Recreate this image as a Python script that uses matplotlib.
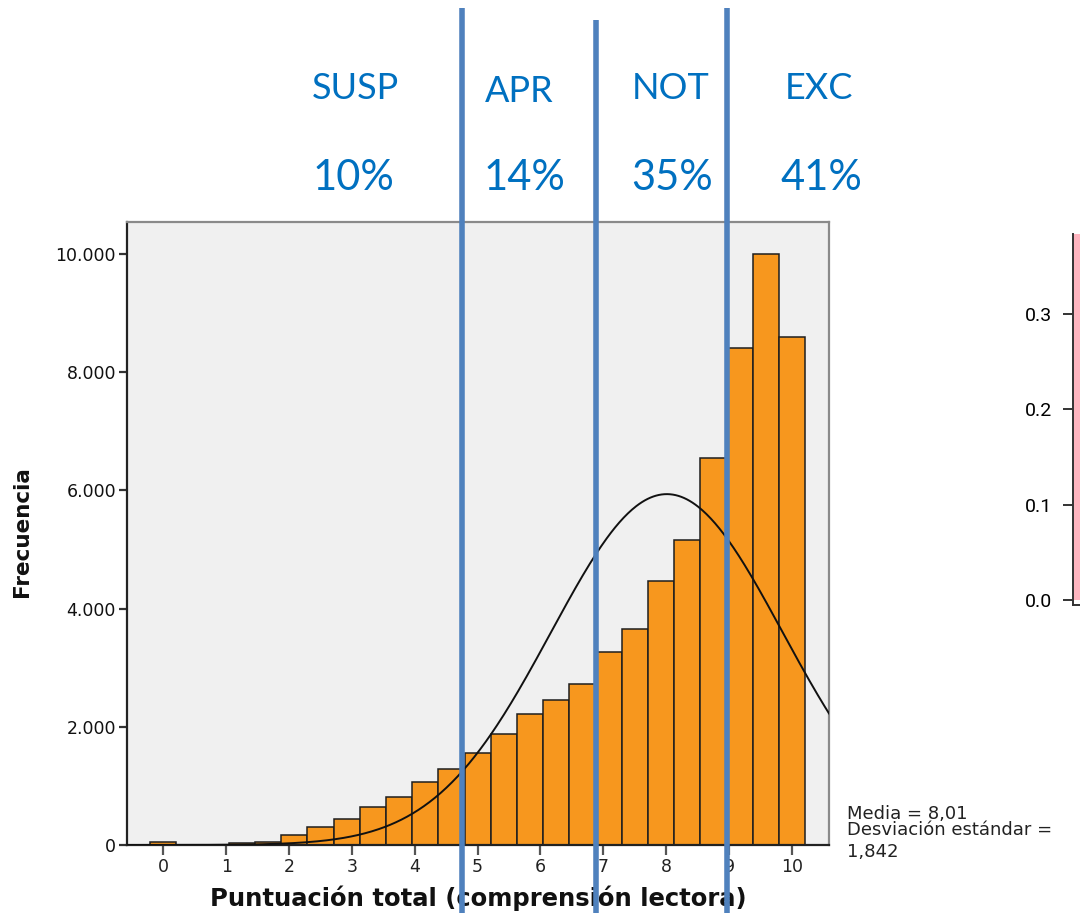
import numpy as np
import matplotlib
matplotlib.use("Agg")
import matplotlib.pyplot as plt
from matplotlib.lines import Line2D
from matplotlib.ticker import FuncFormatter
from matplotlib.transforms import blended_transform_factory

# ---------------- data ----------------
bin_step = 10 / 24
bin_index = list(range(25))
counts = [50, 0, 0, 30, 55, 175, 310, 445, 640, 805, 1060, 1290, 1555, 1875,
          2215, 2460, 2730, 3265, 3650, 4460, 5160, 6550, 8400, 10000, 8600]
mean_score = 8.01
sd_score = 1.842
y_ticks = [0, 2000, 4000, 6000, 8000, 10000]
x_ticks = list(range(11))
levels = ["SUSP", "APR", "NOT", "EXC"]
shares = ["10%", "14%", "35%", "41%"]
cut_points = [4.748, 6.885, 8.974]
right_ticks = [0.0, 0.1, 0.2, 0.3]
right_bar = [0.40]

W, H = 1080, 913
fig = plt.figure(figsize=(W / 100, H / 100), dpi=100)
fig.patch.set_facecolor("white")

def fx(px):
    return px / W

def fy(py):
    return 1 - py / H

# ---------------- main histogram ----------------
ax = fig.add_axes([fx(127), fy(845), (829 - 127) / W, (845 - 222) / H])
ax.set_facecolor("#F0F0F0")
centers = [k * bin_step for k in bin_index]
ax.bar(centers, counts, width=bin_step, color="#F7971E", edgecolor="#1E1E1E",
       linewidth=1.1, zorder=2)

xmin, xmax = -0.578, 10.59
ax.set_xlim(xmin, xmax)
ax.set_ylim(0, 10540)

n_total = sum(counts)
xs = np.linspace(xmin, xmax, 500)
pdf = np.exp(-0.5 * ((xs - mean_score) / sd_score) ** 2) / (sd_score * np.sqrt(2 * np.pi))
ax.plot(xs, n_total * bin_step * pdf, color="#111111", lw=1.4, zorder=3)

ax.set_xticks(x_ticks)
ax.set_yticks(y_ticks)
ax.yaxis.set_major_formatter(FuncFormatter(lambda v, p: f"{int(v):,}".replace(",", ".")))
ax.tick_params(axis="y", length=6, width=1.6, pad=2, labelsize=12.5,
               color="#333333", labelcolor="#111111")
ax.tick_params(axis="x", length=7, width=1.6, pad=2, labelsize=12.5,
               color="#555555", labelcolor="#222222")
for side in ["top", "right"]:
    ax.spines[side].set_color("#8A8A8A")
    ax.spines[side].set_linewidth(1.6)
for side in ["left", "bottom"]:
    ax.spines[side].set_color("#222222")
    ax.spines[side].set_linewidth(1.6)

ax.set_xlabel("Puntuación total (comprensión lectora)", fontsize=17.5,
              fontweight="bold", color="#111111")
ax.xaxis.set_label_coords(0.5007, (845 - 906) / 623)
ax.xaxis.label.set_va("baseline")
ax.set_ylabel("Frecuencia", fontsize=15.5, fontweight="bold", color="#111111")
ax.yaxis.set_label_coords((22 - 127) / 702, (845 - 532) / 623)
ax.yaxis.label.set_va("center")

# statistics note
note_head = f"Media = {mean_score:.2f}".replace(".", ",") + "\nDesviación estándar ="
fig.text(fx(847), fy(835), note_head, fontsize=13, color="#222222",
         va="baseline", ha="left", linespacing=0.85)
fig.text(fx(847), fy(857), f"{sd_score:.3f}".replace(".", ","), fontsize=13,
         color="#222222", va="baseline", ha="left")

# ---------------- partial right chart ----------------
ax2 = fig.add_axes([fx(1073), fy(605), 0.2, (605 - 234) / H])
ax2.set_facecolor("white")
ax2.bar([0.5], right_bar, width=1.0, color="#FFB5C0", edgecolor="none", align="edge")
ax2.set_xlim(0.49, 5)
ax2.set_ylim(-0.0052, 0.384)
ax2.set_yticks(right_ticks)
ax2.set_yticklabels([f"{t:.1f}" for t in right_ticks], family="Roboto", fontsize=14)
ax2.set_xticks([])
ax2.tick_params(axis="y", length=7, width=1.4, pad=8, color="#333333")
for side in ["top", "right"]:
    ax2.spines[side].set_visible(False)
ax2.spines["left"].set_color("#333333")
ax2.spines["bottom"].set_color("#333333")
ax2.spines["left"].set_linewidth(1.4)
ax2.spines["bottom"].set_linewidth(1.4)

# ---------------- category annotations ----------------
label_x = [355, 519.5, 671, 819.5]
label_base = [99, 102, 99, 99]
share_x = [353, 524.5, 672.5, 821]
for lab, lx, lb in zip(levels, label_x, label_base):
    fig.text(fx(lx), fy(lb), lab, family="Lato", fontsize=26, color="#0070C0",
             ha="center", va="baseline")
for sh, sx in zip(shares, share_x):
    fig.text(fx(sx), fy(190), sh, family="Lato", fontsize=30, color="#0070C0",
             ha="center", va="baseline")

trans = blended_transform_factory(ax.transData, fig.transFigure)
line_tops = [fy(8), fy(20), fy(8)]
for cx, top in zip(cut_points, line_tops):
    fig.add_artist(Line2D([cx, cx], [0, top], transform=trans, color="#4F81BD",
                          lw=4.0, zorder=10, solid_capstyle="butt"))

fig.savefig("out.png", dpi=100)
